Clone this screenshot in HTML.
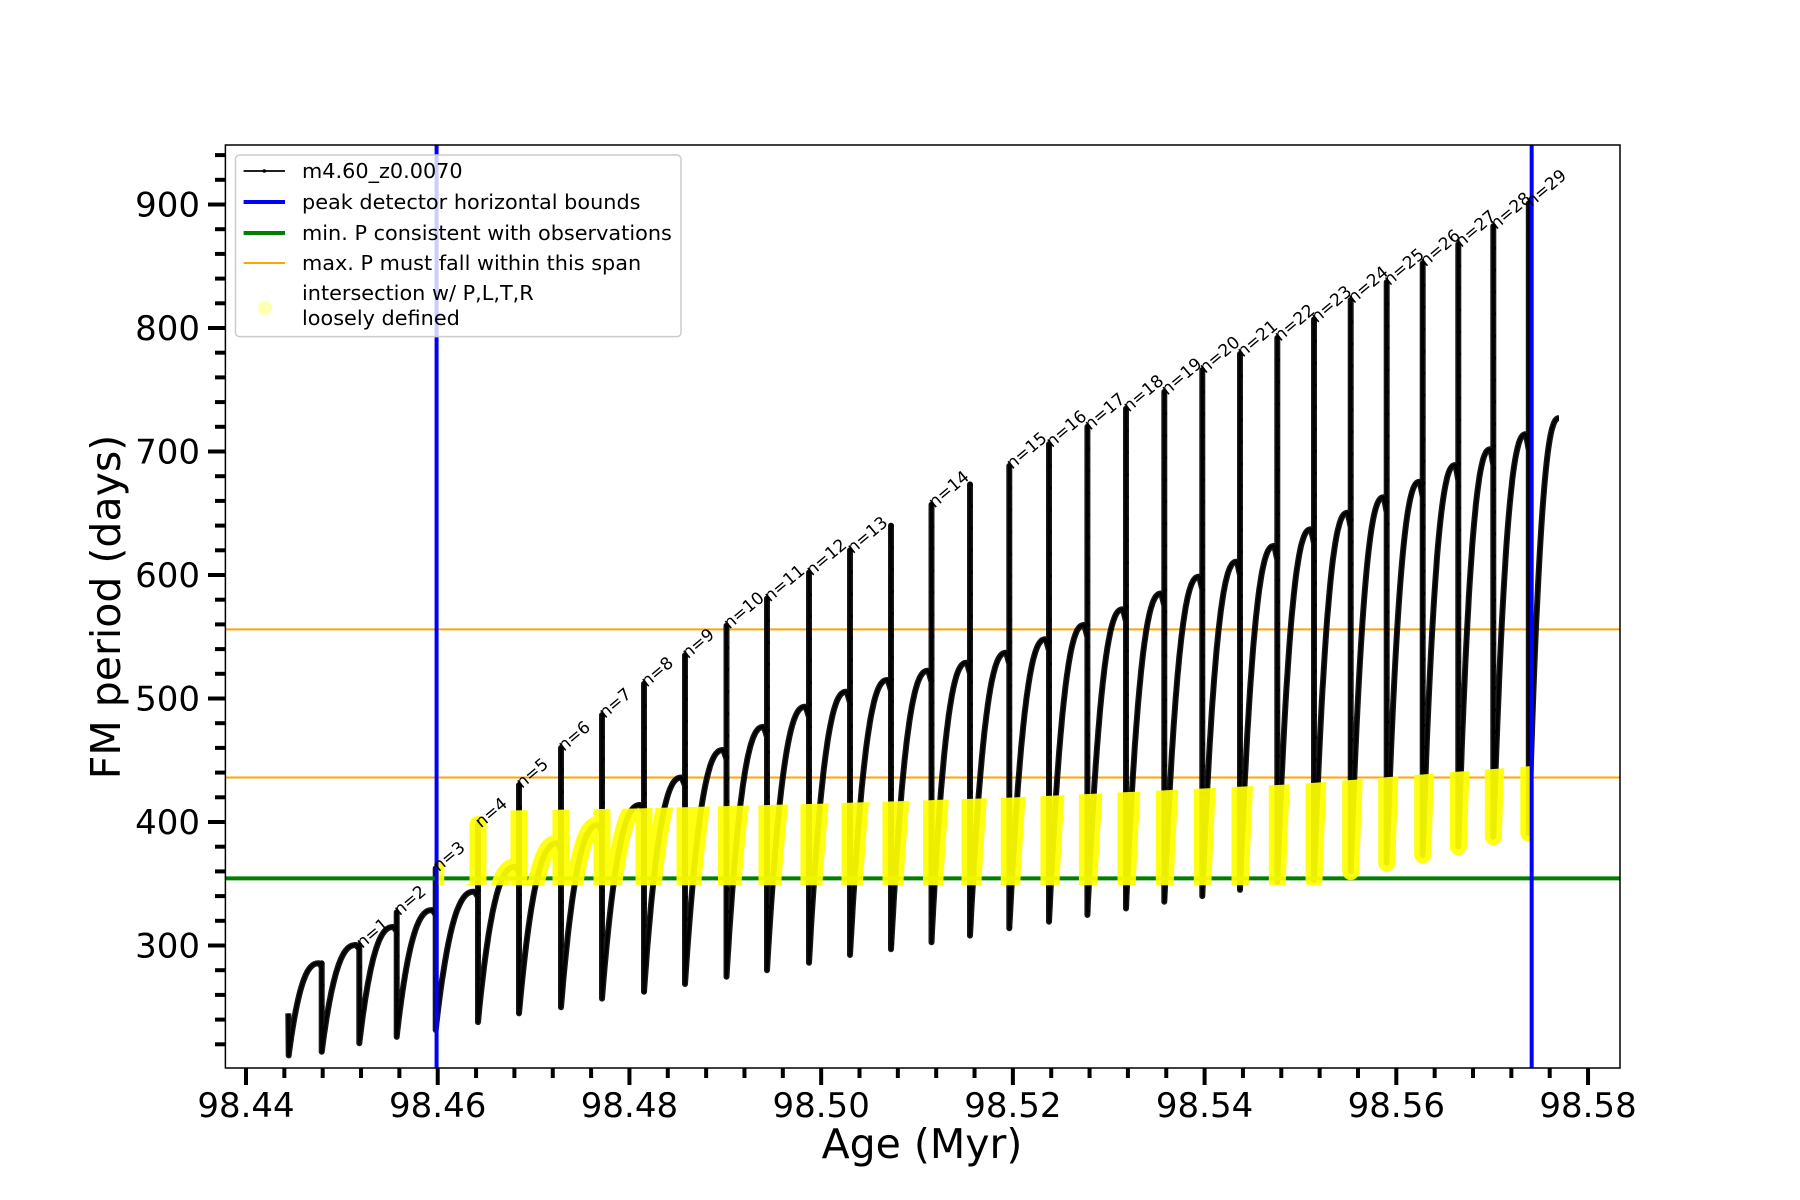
<!DOCTYPE html>
<html><head><meta charset="utf-8"><style>
html,body{margin:0;padding:0;background:#fff;}
svg{display:block;font-family:"DejaVu Sans","Liberation Sans",sans-serif;}
</style></head><body>
<svg id="chart" width="1800" height="1200" viewBox="0 0 1800 1200" xmlns="http://www.w3.org/2000/svg">
<defs><clipPath id="plotclip"><rect x="225.4" y="145" width="1394.6" height="923"/></clipPath>
<clipPath id="yellowclip"><polygon id="yellowpoly" points=""/></clipPath></defs>
<rect width="1800" height="1200" fill="#fff"/>
<g id="plot" clip-path="url(#plotclip)"></g>
<g id="axes"></g>
<g id="labels"></g>
<rect x="225.4" y="145" width="1394.6" height="923" fill="none" stroke="#000" stroke-width="1.5"/>
<text x="922" y="1158" font-size="41" text-anchor="middle">Age (Myr)</text>
<text transform="translate(120,607) rotate(-90)" font-size="41" text-anchor="middle">FM period (days)</text>
<g>
<rect x="235.5" y="155" width="445.5" height="181.6" rx="4" fill="#fff" fill-opacity="0.8" stroke="#ccc" stroke-width="1.5"/>
<g><line x1="243.6" y1="171" x2="285" y2="171" stroke="#000" stroke-width="1.8"/><circle cx="264.3" cy="171" r="1.8" fill="#000"/><text x="302" y="178" font-size="20.8">m4.60_z0.0070</text></g>
<g><line x1="243.6" y1="202" x2="285" y2="202" stroke="#0000ff" stroke-width="4"/><text x="302" y="209" font-size="20.8">peak detector horizontal bounds</text></g>
<g><line x1="243.6" y1="233" x2="285" y2="233" stroke="#008000" stroke-width="4"/><text x="302" y="240" font-size="20.8">min. P consistent with observations</text></g>
<g><line x1="243.6" y1="263" x2="285" y2="263" stroke="#ffa500" stroke-width="2"/><text x="302" y="270" font-size="20.8">max. P must fall within this span</text></g>
<g><circle cx="265" cy="308" r="7" fill="#ffff00" fill-opacity="0.3"/><text x="302" y="300" font-size="20.8">intersection w/ P,L,T,R</text><text x="302" y="325" font-size="20.8">loosely defined</text></g>
</g>
</svg>
<script>
// ---- data ----
const startAge = 98.44441, startVal = 245, startDip = 211;
const spikeAges = [98.44790,98.45182,98.45572,98.45979,98.46420,98.46848,98.47286,98.47714,98.48152,98.48580,98.49013,98.49435,98.49873,98.50301,98.50729,98.51151,98.51553,98.51963,98.52377,98.52777,98.53180,98.53580,98.53976,98.54369,98.54758,98.55141,98.55524,98.55900,98.56275,98.56647,98.57012,98.57382];
const plateauVals = [285.6,300.4,315,328.7,343.6,363.8,382.7,397.6,413.8,436,458.3,477,493.4,505.5,515,522.5,529,537,548,559.5,572.2,585,598.6,610.8,623.5,637,650.4,662.9,675.5,689,701.8,714];
const spikeTops = [285.6,300.4,327,362.5,398,430,460,486.6,512,535,559,581,602,620,640,657,673.4,688.3,706,720,734.7,748.4,766,779,792,807,822.7,837.2,852.4,868,882.6,901];
const dipVals = [214,220.8,226,231.6,238,245,250,257,262.6,268.8,274.7,280,286,292.3,297,302.6,308,313.9,319.3,324.7,330,335.5,340,345,351.7,353,359.8,366.8,373.3,380,388,391];
const cycleLabels = ["","n=1","n=2","n=3","n=4","n=5","n=6","n=7","n=8","n=9","n=10","n=11","n=12","n=13","","n=14","","n=15","n=16","n=17","n=18","n=19","n=20","n=21","n=22","n=23","n=24","n=25","n=26","n=27","n=28","n=29"];
const endAge = 98.57697, endVal = 727;
const blueBounds = [98.45988, 98.57412];
const greenLevel = 354.4;
const orangeLevels = [436, 556];
const yellowUpperAges = [98.455, 98.48, 98.50, 98.52, 98.55, 98.575];
const yellowUpperVals = [403, 406, 410, 415, 426, 441];
const xTicks = [98.44,98.46,98.48,98.50,98.52,98.54,98.56,98.58];
const xTickLabels = ["98.44","98.46","98.48","98.50","98.52","98.54","98.56","98.58"];
const yTicks = [300,400,500,600,700,800,900];
const yTickLabels = ["300","400","500","600","700","800","900"];

// ---- scales ----
const X = a => 246 + (a - 98.44) * 9586;
const Y = v => 204.5 + (900 - v) * 1.235;
const NS = "http://www.w3.org/2000/svg";
function mk(tag, attrs, parent){ const e=document.createElementNS(NS,tag); for(const k in attrs) e.setAttribute(k,attrs[k]); parent.appendChild(e); return e; }
const plot = document.getElementById('plot');
const axes = document.getElementById('axes');
const labelsG = document.getElementById('labels');

function arc(a0,v0,a1,peak,pts,full){
  const n=60;
  for(let k=1;k<=n;k++){
    const u=k/n; let f;
    if(full){ f=1-Math.pow(1-u,2.5); }
    else if(u<=0.92){ f=1-Math.pow(1-u/0.92,2.5); }
    else { f=1-0.04*(u-0.92)/0.08; }
    pts.push([X(a0+(a1-a0)*u), Y(v0+(peak-v0)*f)]);
  }
}
const pts=[[X(startAge),Y(startVal)],[X(startAge+0.00004),Y(startDip)]];
arc(startAge+0.00004,startDip,spikeAges[0],plateauVals[0],pts,false);
const spikeSegs=[];
for(let i=0;i<spikeAges.length;i++){
  const x=X(spikeAges[i]);
  spikeSegs.push([x,Y(spikeTops[i]),Y(dipVals[i])]);
  pts.push([x,Y(spikeTops[i])]); pts.push([x,Y(dipVals[i])]);
  if(i<spikeAges.length-1) arc(spikeAges[i],dipVals[i],spikeAges[i+1],plateauVals[i+1],pts,false);
  else arc(spikeAges[i],dipVals[i],endAge,endVal,pts,true);
}
const d = 'M'+pts.map(p=>p[0].toFixed(1)+','+p[1].toFixed(1)).join('L');

const poly=[];
for(let k=0;k<=100;k++){ const a=blueBounds[0]+(blueBounds[1]-blueBounds[0])*k/100;
  let j=0; while(j<yellowUpperAges.length-2 && a>yellowUpperAges[j+1]) j++;
  const t=(a-yellowUpperAges[j])/(yellowUpperAges[j+1]-yellowUpperAges[j]);
  const v=yellowUpperVals[j]+t*(yellowUpperVals[j+1]-yellowUpperVals[j]);
  poly.push(X(a).toFixed(1)+','+(Y(v)-6).toFixed(1)); }
poly.push(X(blueBounds[1]).toFixed(1)+','+(Y(greenLevel)+7).toFixed(1));
poly.push(X(blueBounds[0]).toFixed(1)+','+(Y(greenLevel)+7).toFixed(1));
document.getElementById('yellowpoly').setAttribute('points',poly.join(' '));

orangeLevels.forEach((v,i)=>{
  const l=mk('line',{x1:225.4,x2:1620,y1:Y(v),y2:Y(v),stroke:'#ffa500','stroke-width':2},plot);
  
  
});
const thick=mk('path',{d:d,fill:'none',stroke:'#000','stroke-width':3,'stroke-linejoin':'round'},plot);


const arcPath=mk('path',{d:d,fill:'none',stroke:'#000','stroke-width':6,'stroke-linejoin':'round','stroke-opacity':0.9},plot);


spikeSegs.forEach(s=>{
  for(let y=s[1];y<s[2];y+=22){ const c=mk('circle',{cx:s[0]+0.5,cy:y,r:2.2,fill:'#000'},plot);
    
     }
});
const g=mk('line',{x1:225.4,x2:1620,y1:Y(greenLevel),y2:Y(greenLevel),stroke:'#008000','stroke-width':4},plot);


const yel=mk('path',{d:d,fill:'none',stroke:'#ffff00','stroke-width':17,'stroke-linejoin':'round','stroke-linecap':'round','stroke-opacity':0.93,'clip-path':'url(#yellowclip)'},plot);


blueBounds.forEach(a=>{
  const b=mk('line',{x1:X(a),x2:X(a),y1:145,y2:1068,stroke:'#0000ff','stroke-width':4},plot);
  
  
});
cycleLabels.forEach((t,i)=>{
  if(!t) return;
  const x=X(spikeAges[i])+3, y=Y(spikeTops[i])+4;
  const tx=mk('text',{x:0,y:0,'font-size':17,transform:`translate(${x.toFixed(1)},${y.toFixed(1)}) rotate(-40)`},labelsG);
  tx.textContent=t;
  
  
});
xTicks.forEach((a,i)=>{
  const x=X(a);
  const l=mk('line',{x1:x,x2:x,y1:1068,y2:1085,stroke:'#000','stroke-width':4},axes);
  
  
  const t=mk('text',{x:x,y:1117,'font-size':34,'text-anchor':'middle'},axes);
  t.textContent=xTickLabels[i];
  
  
});
for(let a=98.436;a<=98.5835;a+=0.004){
  if(Math.abs(Math.round(a*50)-a*50)<1e-4) continue;
  const x=X(a); if(x<226||x>1619) continue;
  const l=mk('line',{x1:x,x2:x,y1:1068,y2:1078,stroke:'#000','stroke-width':4},axes);
  
  
}
yTicks.forEach((v,i)=>{
  const y=Y(v);
  const l=mk('line',{x1:208,x2:225.4,y1:y,y2:y,stroke:'#000','stroke-width':4},axes);
  
  
  const t=mk('text',{x:200,y:y+12,'font-size':34,'text-anchor':'end'},axes);
  t.textContent=yTickLabels[i];
  
  
});
for(let v=220;v<=940;v+=20){
  if(v%100===0) continue;
  const y=Y(v);
  const l=mk('line',{x1:215,x2:225.4,y1:y,y2:y,stroke:'#000','stroke-width':4},axes);
  
  
}
</script>
</body></html>
